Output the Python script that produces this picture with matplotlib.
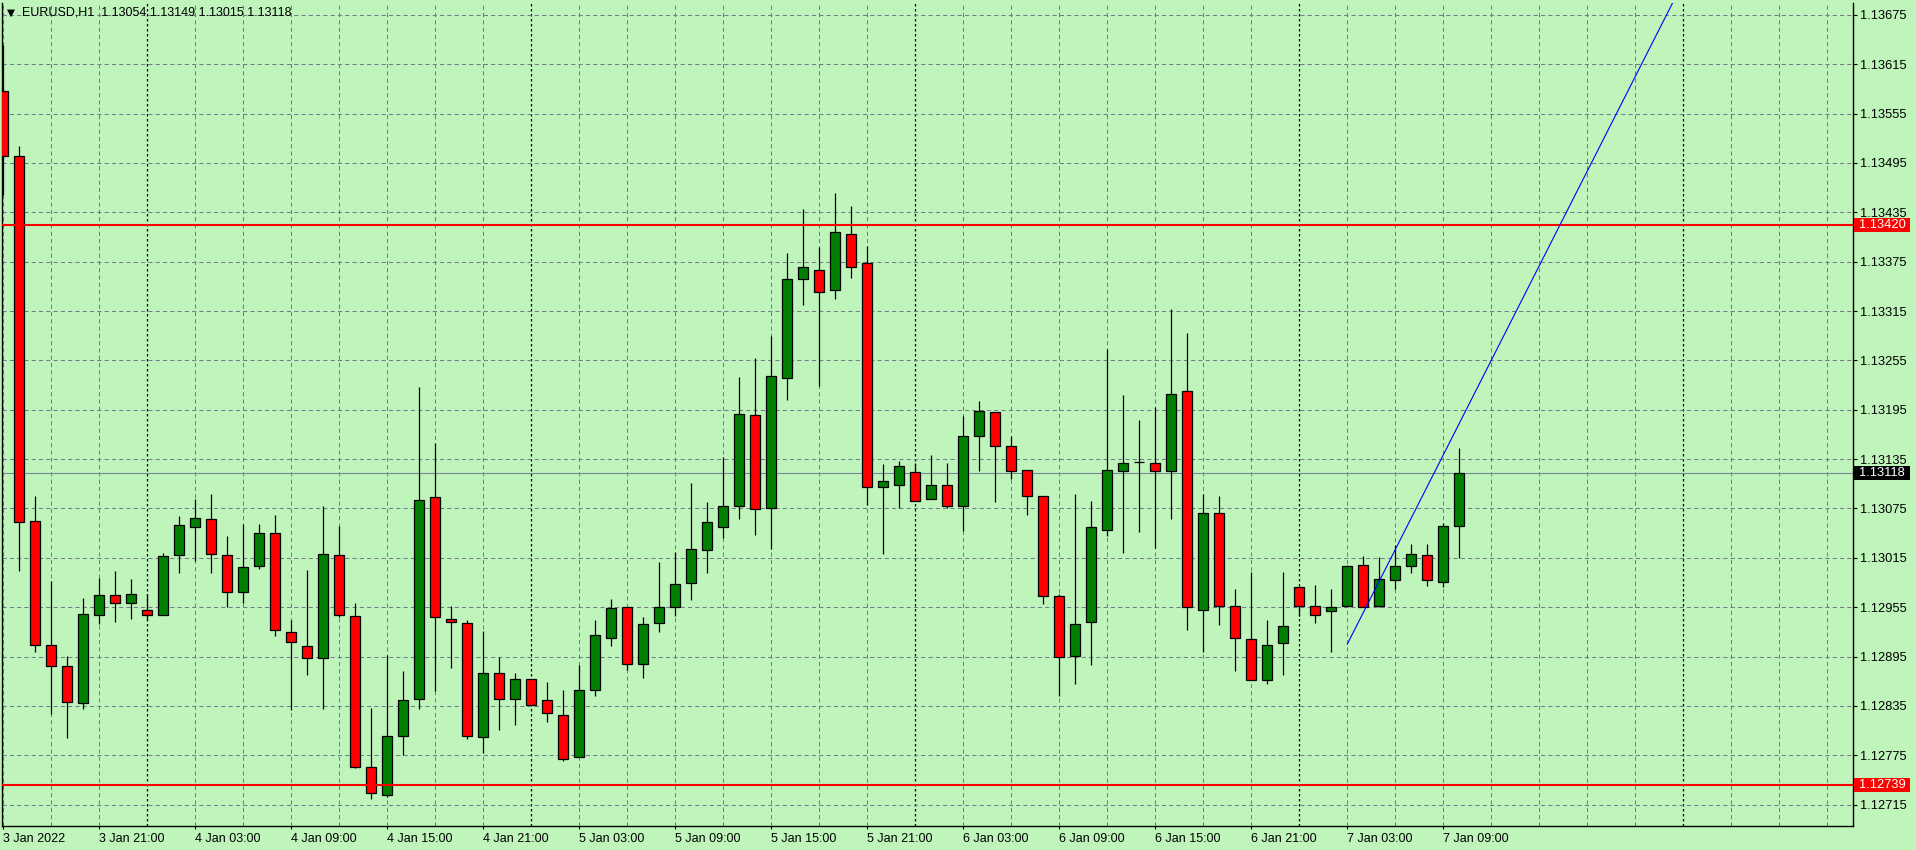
import matplotlib
matplotlib.use('Agg')
import matplotlib.pyplot as plt
import matplotlib.transforms as mtransforms
from matplotlib.patches import Rectangle

# EURUSD H1 bars, 3 Jan 15:00 .. 7 Jan 10:00 (one bar per hour)
opens = [1.13582, 1.13503, 1.13060, 1.12909, 1.12884, 1.12839, 1.12946, 1.12970, 1.12960, 1.12951,
         1.12946, 1.13018, 1.13053, 1.13062, 1.13018, 1.12974, 1.13005, 1.13045, 1.12925, 1.12908,
         1.12893, 1.13018, 1.12944, 1.12761, 1.12727, 1.12798, 1.12843, 1.13089, 1.12941, 1.12936,
         1.12797, 1.12875, 1.12843, 1.12868, 1.12842, 1.12824, 1.12773, 1.12854, 1.12917, 1.12955,
         1.12886, 1.12936, 1.12955, 1.12984, 1.13025, 1.13053, 1.13078, 1.13188, 1.13076, 1.13234,
         1.13354, 1.13365, 1.13341, 1.13409, 1.13373, 1.13101, 1.13104, 1.13119, 1.13087, 1.13104,
         1.13078, 1.13163, 1.13192, 1.13151, 1.13122, 1.13090, 1.12969, 1.12896, 1.12937, 1.13049,
         1.13121, 1.13131, 1.13130, 1.13121, 1.13218, 1.12952, 1.13070, 1.12956, 1.12916, 1.12866,
         1.12911, 1.12980, 1.12957, 1.12950, 1.12957, 1.13006, 1.12956, 1.12988, 1.13005, 1.13019,
         1.12986, 1.13054]
highs = [1.13638, 1.13516, 1.13090, 1.12987, 1.12896, 1.12966, 1.12991, 1.12999, 1.12989, 1.12971,
         1.13021, 1.13066, 1.13086, 1.13093, 1.13041, 1.13056, 1.13056, 1.13067, 1.12940, 1.13000,
         1.13078, 1.13054, 1.12960, 1.12832, 1.12897, 1.12878, 1.13223, 1.13155, 1.12957, 1.12940,
         1.12926, 1.12894, 1.12875, 1.12868, 1.12864, 1.12854, 1.12885, 1.12940, 1.12965, 1.12955,
         1.12943, 1.13010, 1.13022, 1.13106, 1.13083, 1.13138, 1.13235, 1.13258, 1.13285, 1.13386,
         1.13439, 1.13393, 1.13459, 1.13443, 1.13394, 1.13129, 1.13133, 1.13130, 1.13140, 1.13130,
         1.13187, 1.13205, 1.13192, 1.13163, 1.13122, 1.13090, 1.12971, 1.13093, 1.13084, 1.13269,
         1.13213, 1.13183, 1.13198, 1.13318, 1.13288, 1.13093, 1.13090, 1.12977, 1.12998, 1.12939,
         1.12998, 1.12980, 1.12982, 1.12977, 1.13006, 1.13017, 1.13016, 1.13030, 1.13032, 1.13032,
         1.13057, 1.13149]
lows = [1.13456, 1.12999, 1.12901, 1.12825, 1.12796, 1.12831, 1.12935, 1.12937, 1.12941, 1.12939,
        1.12946, 1.12996, 1.13011, 1.12996, 1.12955, 1.12960, 1.13002, 1.12920, 1.12830, 1.12873,
        1.12831, 1.12943, 1.12760, 1.12722, 1.12724, 1.12775, 1.12831, 1.12853, 1.12881, 1.12795,
        1.12778, 1.12806, 1.12812, 1.12836, 1.12815, 1.12768, 1.12773, 1.12847, 1.12908, 1.12879,
        1.12869, 1.12925, 1.12944, 1.12964, 1.12997, 1.13039, 1.13062, 1.13043, 1.13026, 1.13207,
        1.13322, 1.13224, 1.13330, 1.13355, 1.13079, 1.13020, 1.13076, 1.13084, 1.13087, 1.13075,
        1.13047, 1.13120, 1.13083, 1.13111, 1.13067, 1.12959, 1.12847, 1.12861, 1.12885, 1.13042,
        1.13021, 1.13046, 1.13027, 1.13062, 1.12927, 1.12900, 1.12933, 1.12878, 1.12866, 1.12861,
        1.12873, 1.12944, 1.12936, 1.12900, 1.12957, 1.12955, 1.12955, 1.12977, 1.12997, 1.12981,
        1.12980, 1.13015]
closes = [1.13503, 1.13059, 1.12909, 1.12884, 1.12840, 1.12947, 1.12970, 1.12960, 1.12971, 1.12945,
          1.13017, 1.13055, 1.13063, 1.13020, 1.12974, 1.13004, 1.13045, 1.12927, 1.12913, 1.12893,
          1.13020, 1.12945, 1.12761, 1.12729, 1.12799, 1.12842, 1.13085, 1.12943, 1.12937, 1.12799,
          1.12875, 1.12843, 1.12868, 1.12836, 1.12826, 1.12770, 1.12854, 1.12921, 1.12954, 1.12886,
          1.12935, 1.12955, 1.12983, 1.13026, 1.13058, 1.13078, 1.13190, 1.13074, 1.13236, 1.13354,
          1.13369, 1.13338, 1.13411, 1.13369, 1.13101, 1.13108, 1.13126, 1.13084, 1.13104, 1.13078,
          1.13163, 1.13193, 1.13151, 1.13121, 1.13090, 1.12969, 1.12895, 1.12935, 1.13052, 1.13122,
          1.13130, 1.13131, 1.13120, 1.13214, 1.12955, 1.13070, 1.12957, 1.12917, 1.12866, 1.12909,
          1.12932, 1.12956, 1.12946, 1.12955, 1.13005, 1.12955, 1.12989, 1.13005, 1.13020, 1.12988,
          1.13054, 1.13118]

time_labels = ['3 Jan 2022', '3 Jan 21:00', '4 Jan 03:00', '4 Jan 09:00', '4 Jan 15:00',
               '4 Jan 21:00', '5 Jan 03:00', '5 Jan 09:00', '5 Jan 15:00', '5 Jan 21:00',
               '6 Jan 03:00', '6 Jan 09:00', '6 Jan 15:00', '6 Jan 21:00', '7 Jan 03:00',
               '7 Jan 09:00']
label_every = 6           # bars between time labels
grid_every = 3            # bars between vertical grid lines
day_breaks = [9, 33, 57, 81, 105]

price_ticks = [1.12715, 1.12775, 1.12835, 1.12895, 1.12955, 1.13015, 1.13075, 1.13135,
               1.13195, 1.13255, 1.13315, 1.13375, 1.13435, 1.13495, 1.13555, 1.13615, 1.13675]

resistance = 1.13420
support = 1.12739
bid = 1.13118
trend_bars = [84, 90]
trend_prices = [1.12910, 1.13140]

header = 'EURUSD,H1  1.13054 1.13149 1.13015 1.13118'

bg = '#bff5bb'
grid_col = '#6f7d8c'
plt.rcParams['font.family'] = ['Liberation Sans', 'DejaVu Sans']

W, H = 1916, 850
fig = plt.figure(figsize=(W / 100, H / 100), dpi=100, facecolor=bg)
ax = fig.add_axes([2 / W, 24 / H, 1851 / W, 823.5 / H])
ax.set_facecolor(bg)
ax.set_xlim(-0.081, 115.61)
ax.set_ylim(1.12689, 1.13690)

# grid
for v in range(0, 116, grid_every):
    if v in day_breaks:
        ax.axvline(v, color='black', lw=0.9, ls=(0, (2, 2)), zorder=1)
    else:
        ax.axvline(v, color=grid_col, lw=0.75, ls=(0, (4, 3)), zorder=1)
for p in price_ticks:
    ax.axhline(p, color=grid_col, lw=0.75, ls=(0, (4, 3)), zorder=1)

# candles
xs = list(range(len(opens)))
ax.vlines(xs, lows, highs, color='black', lw=0.9, zorder=3)
body_cols = ['#008000' if c >= o else '#ff0000' for o, c in zip(opens, closes)]
ax.bar(xs, [c - o for o, c in zip(opens, closes)], bottom=opens, width=0.6,
       color=body_cols, edgecolor='black', linewidth=0.9, zorder=4)

# levels and trendline
ax.axhline(resistance, color='#ff0000', lw=1.5, zorder=5)
ax.axhline(support, color='#ff0000', lw=1.5, zorder=5)
ax.axhline(bid, color='#778899', lw=0.8, zorder=2)
slope = (trend_prices[1] - trend_prices[0]) / (trend_bars[1] - trend_bars[0])
ax.plot([trend_bars[0], 120], [trend_prices[0], trend_prices[0] + slope * (120 - trend_bars[0])],
        color='#0000ff', lw=0.8, zorder=6)

# axes
for s in ax.spines.values():
    s.set_color('black')
    s.set_linewidth(1)
ax.spines['top'].set_visible(False)
ax.set_xticks(range(0, label_every * len(time_labels), label_every))
ax.set_xticklabels(time_labels)
for lbl in ax.get_xticklabels():
    lbl.set_horizontalalignment('left')
ax.tick_params(axis='x', direction='out', length=2.5, width=0.8, pad=2.5, labelsize=9,
               colors='black')
ax.yaxis.tick_right()
ax.set_yticks(price_ticks)
ax.set_yticklabels([f'{p:.5f}' for p in price_ticks])
ax.tick_params(axis='y', direction='out', length=3.2, width=0.8, pad=1.5, labelsize=9.3,
               colors='black')

# price boxes on the right scale
trans = mtransforms.blended_transform_factory(fig.transFigure, ax.transData)
box_h = 14 / 82291
for p, fc in [(resistance, '#ff0000'), (support, '#ff0000'), (bid, 'black')]:
    ax.add_patch(Rectangle((1854 / W, p - box_h / 2), 56 / W, box_h, transform=trans,
                           facecolor=fc, edgecolor='none', clip_on=False, zorder=7))
    ax.text(1859.5 / W, p, f'{p:.5f}', transform=trans, color='white', fontsize=9.3,
            va='center', ha='left', clip_on=False, zorder=8)

# header
fig.text(6.5 / W, 1 - 12.5 / H, '\u25bc', fontsize=7.5, family='DejaVu Sans', va='center')
fig.text(21.5 / W, 1 - 12.5 / H, header, fontsize=9, va='center', ha='left')

fig.savefig('out.png', dpi=100, facecolor=bg)
